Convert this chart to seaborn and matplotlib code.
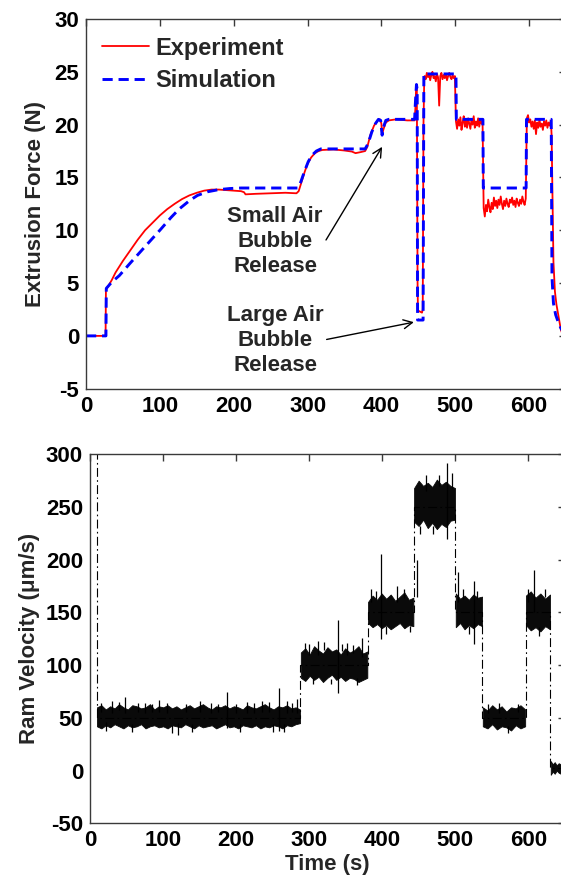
import numpy as np
import pandas as pd
import matplotlib
matplotlib.use("Agg")
import matplotlib.pyplot as plt
import seaborn as sns

# ---------------- Extrusion force: experiment ----------------
# Smooth part of the measured force, up to the top of the large bubble release
exp_time = [0, 26.5, 27, 30, 35, 40, 50, 60, 70, 80, 90, 100, 110, 120, 130, 140,
            150, 160, 170, 180, 190, 200, 210, 214, 216, 230, 250, 270, 285, 288,
            292, 296, 300, 305, 310, 315, 320, 335, 350, 360, 365, 372, 378, 381,
            385, 390, 395, 398, 400, 401, 403, 406, 410, 420, 435, 445, 446, 447,
            448, 449, 449.5, 455, 456, 457, 458]
exp_force = [0, 0, 4.4, 4.7, 5.3, 6.0, 7.1, 8.1, 9.1, 10.0, 10.7, 11.4, 12.0, 12.5,
             12.95, 13.3, 13.55, 13.75, 13.85, 13.85, 13.8, 13.75, 13.7, 13.6, 13.4,
             13.45, 13.5, 13.55, 13.5, 13.7, 14.6, 15.5, 16.3, 16.9, 17.3, 17.5, 17.6,
             17.65, 17.55, 17.45, 17.3, 17.4, 17.5, 17.9, 19.0, 19.9, 20.4, 20.5, 20.1,
             19.1, 19.6, 20.2, 20.4, 20.5, 20.4, 20.4, 21.5, 23.3, 23.7, 5.0, 2.4, 2.2,
             2.5, 20.0, 24.2]

# Noisy plateaus of the measured force (readings sampled evenly over each span)
exp_noisy_span = [(458.5, 499.5), (501, 537), (538.5, 595.5), (597, 629.5)]
exp_noisy_force = [
    [24.6, 24.3, 24.9, 24.5, 24.8, 24.2, 24.7, 25.0, 24.4, 24.6, 24.1, 24.8, 24.5,
     21.8, 24.6, 24.9, 24.3, 24.7, 24.4, 24.8, 24.2, 24.6, 24.9, 24.5, 24.3, 24.7,
     24.4, 24.6],
    [20.3, 19.6, 20.5, 19.9, 20.7, 19.5, 20.2, 20.8, 19.8, 20.4, 19.7, 20.6, 20.1,
     19.6, 20.5, 20.0, 20.8, 19.7, 20.3, 19.9, 20.6, 19.8, 20.4, 20.1, 20.3],
    [12.1, 11.3, 12.4, 11.8, 12.9, 12.2, 11.7, 12.6, 12.0, 13.1, 12.3, 12.8, 12.1,
     12.9, 12.4, 13.2, 12.5, 12.0, 12.8, 12.3, 13.0, 12.5, 12.2, 12.9, 12.6, 13.1,
     12.4, 12.8, 12.2, 13.0, 12.6, 12.3, 12.9, 12.5, 13.2, 12.7, 12.4, 13.0],
    [20.6, 20.9, 20.2, 20.5, 19.8, 20.3, 19.6, 20.4, 19.1, 20.2, 19.7, 20.5, 19.8,
     20.1, 19.5, 20.3, 19.9, 20.4, 19.7, 20.2, 19.9, 20.4],
]

# Unloading at the end of the run
exp_tail_time = [630.5, 631.5, 633, 635, 637, 640, 643, 646, 650]
exp_tail_force = [19.0, 14.0, 7.0, 4.2, 3.0, 1.8, 0.6, 0.0, -0.2]

# ---------------- Extrusion force: simulation ----------------
sim_time = [0, 27, 27.5, 35, 45, 60, 78, 100, 115, 126, 140, 151, 165, 180, 195,
            210, 287, 291, 296, 301, 306, 312, 318, 378, 382, 387, 392, 396, 399,
            401, 403, 406, 410, 445, 446, 447.5, 448.5, 449, 456.5, 457.5, 501,
            501.5, 537.5, 538, 596, 596.5, 630, 631, 633, 636, 640, 644, 650]
sim_force = [0, 0, 4.5, 5.1, 5.7, 6.9, 8.3, 10.0, 11.2, 12.0, 12.8, 13.3, 13.65,
             13.85, 13.95, 14.0, 14.0, 14.6, 15.6, 16.5, 17.1, 17.5, 17.7, 17.7,
             18.2, 19.3, 20.1, 20.5, 20.4, 19.0, 19.8, 20.4, 20.5, 20.5, 22.0, 23.8,
             23.3, 1.5, 1.5, 24.8, 24.8, 20.5, 20.5, 14.0, 14.0, 20.5, 20.5, 5.6,
             3.1, 2.0, 1.2, 0.6, 0.2]

# ---------------- Ram velocity ----------------
initial_velocity = 320          # reading before the first plateau (off scale)
plateau_start = [9, 288, 380, 443, 500, 537, 596, 630]
plateau_end = [288, 380, 443, 500, 537, 596, 630, 650]
plateau_level = [50, 100, 150, 250, 150, 50, 150, 2]

# Upper / lower envelope of the noisy velocity signal on each plateau
band_upper = [
    [60, 62, 58, 61, 59, 63, 60, 58, 62, 61, 59, 60, 63, 58, 61, 60, 62, 59, 61, 58,
     60, 62, 59, 61, 63, 60, 58, 61, 60, 62, 59, 61, 60, 58, 62, 60, 59, 61, 63, 60,
     58, 61, 60, 62, 59, 60, 58],
    [112, 116, 110, 118, 114, 111, 117, 113, 115, 110, 116, 112, 114, 118, 111, 113],
    [160, 166, 162, 168, 163, 167, 161, 165, 169, 162, 164],
    [268, 275, 270, 273, 269, 276, 271, 274, 270, 268],
    [168, 163, 166, 162, 167, 164, 165],
    [60, 57, 62, 58, 61, 56, 60, 59, 62, 58],
    [166, 170, 164, 168, 163, 167],
    [9, 6, 8, 5, 7, 6, 8, 5],
]
band_lower = [
    [42, 40, 43, 41, 44, 42, 40, 43, 41, 42, 44, 40, 42, 43, 41, 42, 40, 43, 42, 41,
     44, 42, 40, 43, 41, 42, 43, 40, 42, 44, 41, 42, 40, 43, 42, 41, 43, 40, 42, 41,
     43, 42, 40, 43, 42, 44, 45],
    [88, 85, 90, 86, 89, 84, 88, 91, 86, 89, 85, 88, 87, 84, 86, 88],
    [140, 136, 139, 135, 138, 134, 137, 140, 135, 138, 137],
    [236, 232, 238, 230, 235, 229, 234, 231, 237, 238],
    [136, 140, 134, 138, 135, 139, 137],
    [42, 40, 44, 39, 42, 41, 38, 43, 40, 42],
    [138, 133, 136, 132, 137, 134],
    [-4, -1, -3, 0, -2, -3, -1, -2],
]

# Isolated velocity spikes: time, low, high
spike_time = [15, 22, 30, 40, 48, 58, 65, 75, 85, 95, 105, 112, 120, 132, 140, 150,
              165, 175, 188, 200, 205, 215, 225, 236, 245, 250, 258, 265, 270, 277,
              283, 294, 300, 305, 312, 320, 330, 340, 345, 352, 360, 366, 372, 385,
              392, 398, 405, 420, 430, 438, 447, 452, 460, 470, 478, 488, 495, 503,
              510, 518, 525, 530, 545, 560, 572, 585, 600, 607, 615, 622]
spike_low = [56, 38, 55, 57, 55, 37, 56, 55, 56, 56, 55, 36, 34, 56, 37, 56,
             55, 56, 40, 55, 37, 55, 55, 56, 56, 37, 38, 37, 55, 56,
             55, 113, 110, 82, 110, 114, 82, 74, 113, 110, 112, 81, 108, 160,
             163, 125, 130, 160, 164, 131, 165, 224, 265, 224, 270, 220, 268, 160,
             163, 130, 120, 163, 55, 55, 36, 56, 160, 150, 128, 165]
spike_high = [64, 46, 66, 65, 70, 44, 64, 64, 63, 67, 64, 43, 45, 63, 44, 66,
              64, 63, 75, 63, 44, 65, 64, 66, 65, 44, 78, 44, 66, 64,
              68, 121, 120, 88, 123, 122, 87, 143, 120, 121, 119, 88, 126, 172,
              170, 205, 137, 175, 172, 137, 200, 232, 280, 232, 280, 292, 282, 188,
              172, 137, 180, 170, 63, 64, 42, 63, 172, 190, 136, 172]

force_ticks = [-5, 0, 5, 10, 15, 20, 25, 30]
velocity_ticks = [-50, 0, 50, 100, 150, 200, 250, 300]
time_ticks = [0, 100, 200, 300, 400, 500, 600]

# ---------------- assemble tables ----------------
t_parts = [np.asarray(exp_time, float)]
f_parts = [np.asarray(exp_force, float)]
for (t0, t1), vals in zip(exp_noisy_span, exp_noisy_force):
    t_parts.append(np.linspace(t0, t1, len(vals)))
    f_parts.append(np.asarray(vals, float))
t_parts.append(np.asarray(exp_tail_time, float))
f_parts.append(np.asarray(exp_tail_force, float))
exp_df = pd.DataFrame({"time": np.concatenate(t_parts), "force": np.concatenate(f_parts)})
sim_df = pd.DataFrame({"time": sim_time, "force": sim_force})

step_t = [plateau_start[0]]
step_v = [initial_velocity]
for s, e, lvl in zip(plateau_start, plateau_end, plateau_level):
    step_t += [s, e]
    step_v += [lvl, lvl]
step_df = pd.DataFrame({"time": step_t, "velocity": step_v})

# ---------------- styling ----------------
sns.set_theme(style="white")
plt.rcParams["font.family"] = ["Liberation Sans", "DejaVu Sans"]
plt.rcParams["font.weight"] = "bold"
plt.rcParams["axes.labelweight"] = "bold"
plt.rcParams["axes.unicode_minus"] = False

FS = 16
fig = plt.figure(figsize=(5.61, 8.82), dpi=100)
ax1 = fig.add_axes([86 / 561, 1 - 388.7 / 882, 480 / 561, 369.7 / 882])
ax2 = fig.add_axes([90 / 561, 1 - 823.3 / 882, 475 / 561, 369 / 882])


def style_axes(ax, xticks, yticks):
    ax.set_xticks(xticks, labels=[str(v) for v in xticks],
                  fontsize=FS, fontweight="bold")
    ax.set_yticks(yticks, labels=[str(v) for v in yticks],
                  fontsize=FS, fontweight="bold")
    for sp in ax.spines.values():
        sp.set_color("#3a3a3a")
        sp.set_linewidth(1.0)
    ax.tick_params(direction="in", length=5, width=1, top=True, right=True,
                   color="#3a3a3a", labelcolor="black", pad=5)


# ---- top: extrusion force ----
sns.lineplot(data=exp_df, x="time", y="force", ax=ax1, color="#ff0000", lw=1.3,
             estimator=None, sort=False, label="Experiment")
sns.lineplot(data=sim_df, x="time", y="force", ax=ax1, color="#0000ff", lw=2.1,
             estimator=None, sort=False, label="Simulation",
             linestyle=(0, (3.5, 2.0)))
ax1.set_xlim(0, 650)
ax1.set_ylim(-5, 30)
ax1.set_xlabel("")
ax1.set_ylabel("Extrusion Force (N)", fontsize=FS, fontweight="bold", labelpad=6)
style_axes(ax1, time_ticks, force_ticks)

leg = ax1.legend(loc="upper left", bbox_to_anchor=(16 / 480, 0.952), frameon=False,
                 borderpad=0, borderaxespad=0, handlelength=2.0, handletextpad=0.25,
                 labelspacing=0.4, prop={"size": 17, "weight": "bold"})
for txt in leg.get_texts():
    txt.set_fontweight("bold")

ax1.annotate("Small Air\nBubble\nRelease", xy=(401, 17.9), xytext=(256, 8.9),
             ha="center", va="center", fontsize=FS, fontweight="bold",
             linespacing=1.25,
             arrowprops=dict(arrowstyle="->", color="black", lw=1.0,
                             shrinkA=0, shrinkB=0, relpos=(1.0, 0.45)))
ax1.annotate("Large Air\nBubble\nRelease", xy=(444, 1.3), xytext=(256, -0.4),
             ha="center", va="center", fontsize=FS, fontweight="bold",
             linespacing=1.25,
             arrowprops=dict(arrowstyle="->", color="black", lw=1.0,
                             shrinkA=0, shrinkB=0, relpos=(1.0, 0.5)))

# ---- bottom: ram velocity ----
sns.lineplot(data=step_df, x="time", y="velocity", ax=ax2, color="black", lw=0.8,
             estimator=None, sort=False, linestyle=(0, (8, 3, 1.5, 3)))
for s, e, hi, lo in zip(plateau_start, plateau_end, band_upper, band_lower):
    tt = np.linspace(s + 0.5, e - 0.5, len(hi))
    ax2.fill_between(tt, lo, hi, color="#0a0a0a", lw=0.6, edgecolor="#0a0a0a")
ax2.vlines(spike_time, spike_low, spike_high, color="black", lw=0.9)
ax2.set_xlim(0, 650)
ax2.set_ylim(-50, 300)
ax2.set_xlabel("Time (s)", fontsize=FS, fontweight="bold", labelpad=2)
ax2.set_ylabel("Ram Velocity (\u03bcm/s)", fontsize=FS, fontweight="bold", labelpad=4)
style_axes(ax2, time_ticks, velocity_ticks)

fig.savefig("out.png", dpi=100)
